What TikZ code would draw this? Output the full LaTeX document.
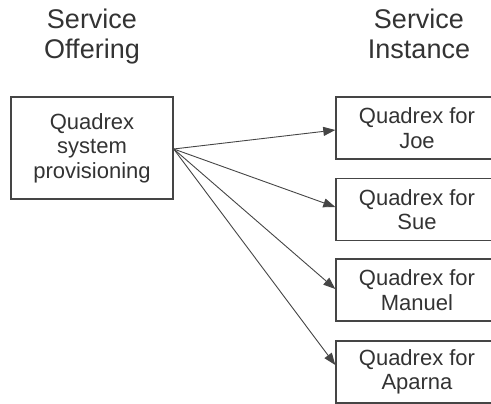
\documentclass[tikz,border=0pt]{standalone}
\usepackage{fontspec}
\setmainfont{Liberation Sans}
\usetikzlibrary{arrows.meta}
\definecolor{ink}{HTML}{333333}
\definecolor{edge}{HTML}{454545}
\tikzset{
  header/.style={text=ink, align=center, inner sep=0pt, anchor=north, font=\fontsize{27}{30}\selectfont},
  offerbox/.style={draw=edge, line width=1.4pt, text=ink, align=center, inner sep=0pt,
    minimum width=162pt, minimum height=102pt, font=\fontsize{22}{24.5}\selectfont},
  instbox/.style={draw=edge, line width=1.4pt, text=ink, align=center, inner sep=0pt,
    minimum width=170pt, minimum height=62pt, font=\fontsize{22}{24.5}\selectfont},
  link/.style={draw=edge, line width=0.9pt, -{Triangle[length=12pt,width=9pt]}}
}
\begin{document}
\begin{tikzpicture}[x=1pt,y=1pt]
\useasboundingbox (0,0) rectangle (491,-404);
\clip (0,0) rectangle (491,-404);
\node[header] (hoffer) at (92,-9) {Service\\Offering};
\node[header] (hinst) at (419,-9) {Service\\Instance};
\node[offerbox] (offer) at (92,-148) {Quadrex\\system\\provisioning};
\node[instbox] (joe) at (421,-128) {\hspace*{-8pt}Quadrex for\\\hspace*{-8pt}Joe};
\node[instbox] (sue) at (421,-209.5) {\hspace*{-8pt}Quadrex for\\\hspace*{-8pt}Sue};
\node[instbox] (manuel) at (421,-290) {\hspace*{-8pt}Quadrex for\\\hspace*{-8pt}Manuel};
\node[instbox] (aparna) at (421,-372) {\hspace*{-8pt}Quadrex for\\\hspace*{-8pt}Aparna};
\coordinate (src) at ([yshift=-1pt]offer.east);
\draw[link] (src) -- ([yshift=-2pt]joe.west);
\draw[link] (src) -- ([yshift=2.5pt]sue.west);
\draw[link] (src) -- ([yshift=1pt]manuel.west);
\draw[link] (src) -- ([yshift=7pt]aparna.west);
\end{tikzpicture}
\end{document}
